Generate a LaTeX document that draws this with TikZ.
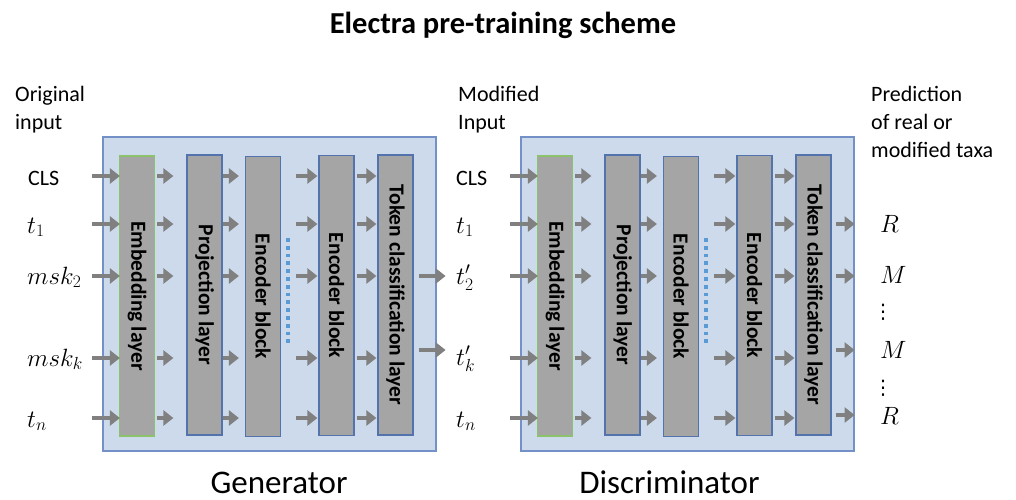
\RequirePackage{fix-cm}
\documentclass[tikz,border=0pt]{standalone}
\usepackage[no-math]{fontspec}
\setmainfont{Carlito}
\newfontfamily\symbolfont{DejaVu Sans}
\usetikzlibrary{arrows.meta,calc}

\definecolor{panelfill}{HTML}{CDDAEB}
\definecolor{panelline}{HTML}{7391C6}
\definecolor{barfill}{HTML}{A5A5A5}
\definecolor{barline}{HTML}{5273AC}
\definecolor{embline}{HTML}{8DC26C}
\definecolor{arrowgray}{HTML}{808080}
\definecolor{dotblue}{HTML}{5B9BD5}

\tikzset{
  panel/.style={draw=panelline, fill=panelfill, line width=1.2pt,
    minimum width=333pt, minimum height=314pt, inner sep=0pt},
  layerbar/.style={draw=barline, fill=barfill, line width=1.2pt,
    minimum width=35pt, minimum height=280pt, inner sep=0pt,
    font=\fontsize{21.5}{25}\selectfont\bfseries},
  embbar/.style={layerbar, draw=embline},
  flow/.style={draw=arrowgray, line width=4.8pt,
    -{Triangle[length=10pt,width=15pt]}},
  lbl/.style={anchor=base west, inner sep=0pt, font=\fontsize{22}{28}\selectfont},
  mlbl/.style={anchor=base west, inner sep=0pt, font=\fontsize{25}{30}\selectfont},
  head/.style={anchor=north west, inner sep=0pt, align=left,
    font=\fontsize{22}{28}\selectfont},
  vdotsnode/.style={inner sep=0pt, font=\fontsize{20}{24}\symbolfont},
  caption/.style={anchor=base, inner sep=0pt, font=\fontsize{33}{38}\selectfont},
  titletext/.style={anchor=base, inner sep=0pt, font=\fontsize{30.5}{36}\selectfont\bfseries},
  dotline/.style={draw=dotblue, line width=4pt, dash pattern=on 3.8pt off 4pt}
}

\begin{document}
\begin{tikzpicture}[x=1pt,y=-1pt]
\useasboundingbox (0,0) rectangle (1016,499);

% token rows
\coordinate (r1) at (0,176);
\coordinate (r2) at (0,224);
\coordinate (r3) at (0,276);
\coordinate (r4) at (0,358);
\coordinate (r5) at (0,418);
\coordinate (q4) at (0,350);
\coordinate (q5) at (0,415);

\node[titletext] (title) at (503,33) {Electra pre-training scheme};

% the two networks share the same layer stack
\foreach \p/\dx in {g/0,d/418}{
  \node[panel] (panel\p) at (269.5+\dx,294) {};
  \node[embbar]   (emb\p)  at (137+\dx,296)   {\rotatebox{-90}{Embedding layer}};
  \node[layerbar] (proj\p) at (204.5+\dx,295) {\rotatebox{-90}{Projection layer}};
  \node[layerbar] (encA\p) at (263+\dx,296.5) {\rotatebox{-90}{Encoder block}};
  \node[layerbar] (encB\p) at (336.5+\dx,295.5) {\rotatebox{-90}{Encoder block}};
  \node[layerbar] (tok\p)  at (395.5+\dx,295) {\rotatebox{-90}{Token classification layer}};
  \draw[dotline] (288+\dx,238) -- (288+\dx,346);
  \foreach \rw in {r1,r2,r3,r4,r5}{
    \draw[flow] ($(emb\p.west|-\rw)+(-27,0)$) -- ($(emb\p.west|-\rw)+(1,0)$);
    \draw[flow] ($(emb\p.east|-\rw)+(2,0)$) -- ($(proj\p.west|-\rw)+(-13,0)$);
    \draw[flow] ($(proj\p.east|-\rw)+(0,0)$) -- ($(encA\p.west|-\rw)+(-6,0)$);
    \draw[flow] ($(encA\p.east|-\rw)+(15,0)$) -- ($(encB\p.west|-\rw)+(-1,0)$);
    \draw[flow] ($(encB\p.east|-\rw)+(2,0)$) -- ($(tok\p.west|-\rw)+(-1,0)$);
  }
}

% generator output: replaced tokens
\foreach \rw in {r3,q4}
  \draw[flow] ($(tokg.east|-\rw)+(5,0)$) -- ($(tokg.east|-\rw)+(32,0)$);
% discriminator output: real / modified decisions
\foreach \rw in {r2,r3,q4,q5}
  \draw[flow] ($(tokd.east|-\rw)+(4,0)$) -- (paneld.east|-\rw);

% generator inputs
\node[head] (origin) at (15,86) {Original\\input};
\node[lbl]  (gCLS) at (28,185) {CLS};
\node[mlbl] (gT1)  at (27,233) {$t_1$};
\node[mlbl] (gM2)  at (27,284) {$msk_2$};
\node[mlbl] (gMk)  at (27,366) {$msk_k$};
\node[mlbl] (gTn)  at (27,427) {$t_n$};

% discriminator inputs
\node[head] (modin) at (458,86) {Modified\\Input};
\node[lbl]  (dCLS) at (456,185) {CLS};
\node[mlbl] (dT1)  at (456,233) {$t_1$};
\node[mlbl] (dT2)  at (456,284) {$t'_2$};
\node[mlbl] (dTk)  at (456,365) {$t'_k$};
\node[mlbl] (dTn)  at (456,427) {$t_n$};

% predictions
\node[head] (pred) at (871,86) {Prediction\\of real or\\modified taxa};
\node[mlbl] (oR1) at (880,232) {$R$};
\node[mlbl] (oM2) at (880,283) {$M$};
\node[vdotsnode] (oV1) at (883,312) {⋮};
\node[mlbl] (oMk) at (880,358) {$M$};
\node[vdotsnode] (oV2) at (883,388) {⋮};
\node[mlbl] (oRn) at (880,424) {$R$};

\node[caption] (gcap) at (279,493) {Generator};
\node[caption] (dcap) at (669.5,493) {Discriminator};
\end{tikzpicture}
\end{document}
